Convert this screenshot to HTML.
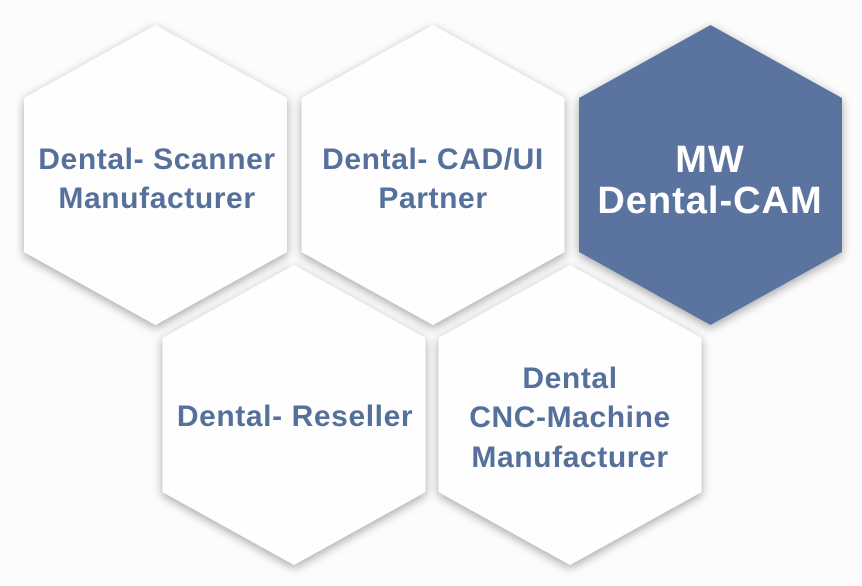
<!DOCTYPE html>
<html><head><style>
html,body{margin:0;padding:0;background:#fff;}
svg{display:block;}
text{font-family:"Liberation Sans",sans-serif;font-weight:bold;text-anchor:middle;}
</style></head><body>
<svg width="862" height="586" viewBox="0 0 862 586">
<defs>
<filter id="sh" x="-20%" y="-20%" width="140%" height="140%">
<feGaussianBlur in="SourceAlpha" stdDeviation="5"/>
<feOffset dx="0" dy="3"/>
<feComponentTransfer><feFuncA type="linear" slope="0.35"/></feComponentTransfer>
<feMerge><feMergeNode/><feMergeNode in="SourceGraphic"/></feMerge>
</filter>
<polygon id="hx" points="0,-150 131.5,-77 131.5,77 0,150 -131.5,77 -131.5,-77"/>
</defs>
<rect width="862" height="586" fill="#fcfcfc"/>
<g filter="url(#sh)" fill="#fefefe">
<use href="#hx" x="155.5" y="175"/>
<use href="#hx" x="433" y="175"/>
<use href="#hx" x="710.5" y="175" fill="#5a739f"/>
<use href="#hx" x="294" y="415"/>
<use href="#hx" x="570" y="415"/>
</g>
<g fill="#56709c" font-size="30" letter-spacing="0.6">
<text x="157" y="169">Dental- Scanner</text>
<text x="157" y="208">Manufacturer</text>
<text x="433" y="169">Dental- CAD/UI</text>
<text x="433" y="208">Partner</text>
<text x="295" y="426">Dental- Reseller</text>
<text x="570" y="388">Dental</text>
<text x="570" y="427">CNC-Machine</text>
<text x="570" y="467">Manufacturer</text>
</g>
<g fill="#ffffff" font-size="38" letter-spacing="1">
<text x="710" y="172">MW</text>
<text x="710" y="213">Dental-CAM</text>
</g>
</svg>
</body></html>
